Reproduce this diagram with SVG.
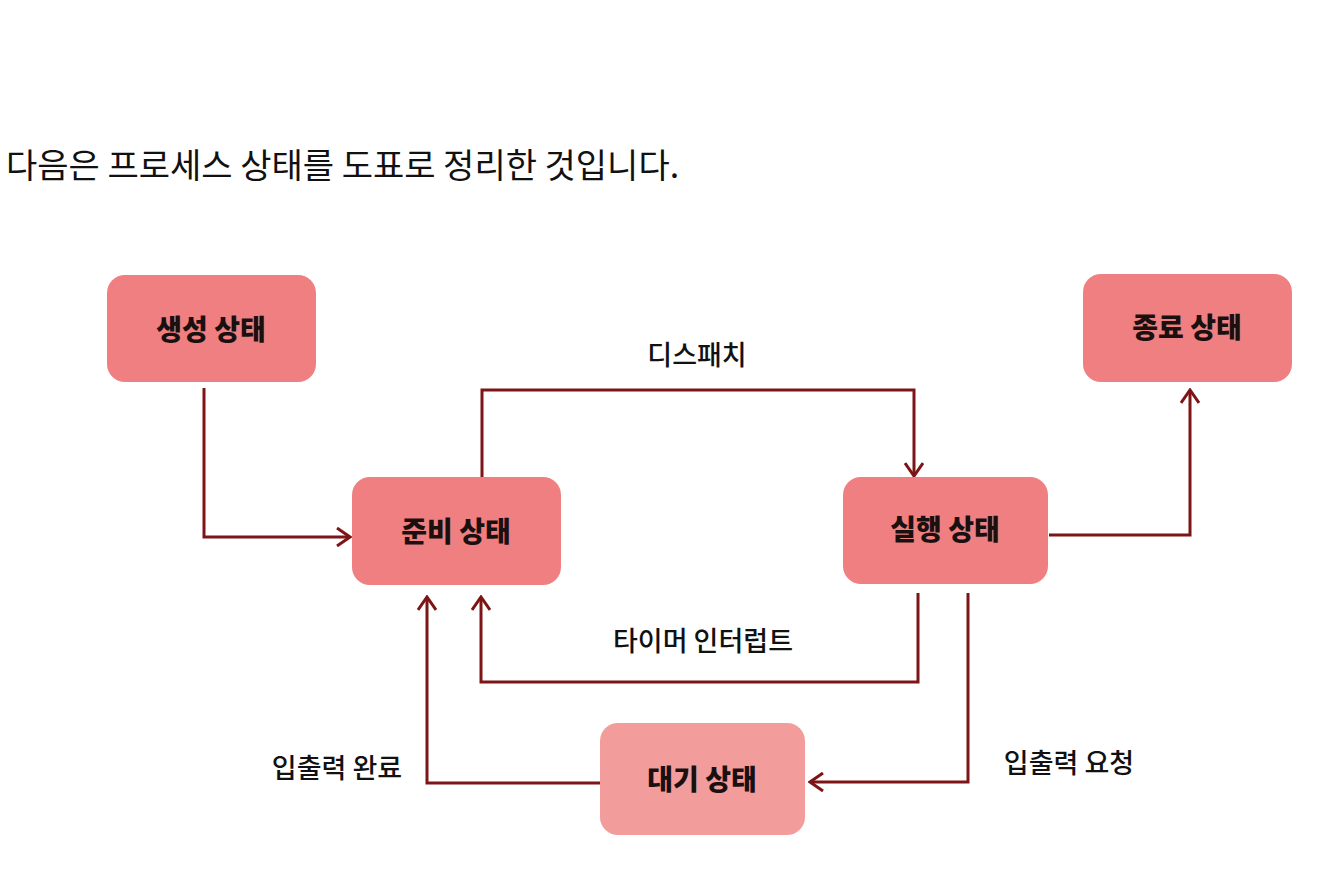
<svg xmlns="http://www.w3.org/2000/svg" width="1334" height="871" viewBox="0 0 1334 871">
<defs>
<style>
.box{fill:#ef7f80;}
.box2{fill:#f29c9c;}
.nt{font-family:"Noto Sans CJK KR","Noto Sans",sans-serif;font-weight:900;font-size:28px;fill:#1a1010;text-anchor:middle;}
.lb{font-family:"Noto Sans CJK KR","Noto Sans",sans-serif;font-weight:500;font-size:27px;fill:#111;text-anchor:middle;}
.title{font-family:"Noto Sans CJK KR","Noto Sans",sans-serif;font-weight:400;font-size:34px;fill:#111;}
.c{fill:none;stroke:#7d1416;stroke-width:3;}
</style>
<marker id="ah" viewBox="0 0 20 20" refX="18" refY="10" markerWidth="20" markerHeight="20" markerUnits="userSpaceOnUse" orient="auto">
<path d="M5,1 L18,10 L5,19" fill="none" stroke="#7d1416" stroke-width="3"/>
</marker>
</defs>
<rect width="1334" height="871" fill="#ffffff"/>
<text class="title" x="6" y="178">다음은 프로세스 상태를 도표로 정리한 것입니다.</text>

<g id="connectors">
<path class="c" d="M204,388 V537 H350" marker-end="url(#ah)"/>
<path class="c" d="M482,477 V390 H914 V476" marker-end="url(#ah)"/>
<path class="c" d="M1049,535 H1190 V390" marker-end="url(#ah)"/>
<path class="c" d="M918,593 V682 H481 V597" marker-end="url(#ah)"/>
<path class="c" d="M968,593 V782 H810" marker-end="url(#ah)"/>
<path class="c" d="M600,783 H427 V597" marker-end="url(#ah)"/>
<text class="lb" x="697" y="365">디스패치</text>
<text class="lb" x="703" y="651">타이머 인터럽트</text>
<text class="lb" x="1069" y="773">입출력 요청</text>
<text class="lb" x="337" y="778">입출력 완료</text>
</g>

<g id="node-create">
<rect class="box" x="107" y="275" width="209" height="107" rx="18"/>
<text class="nt" x="211" y="340">생성 상태</text>
</g>
<g id="node-ready">
<rect class="box" x="352" y="477" width="209" height="108" rx="18"/>
<text class="nt" x="456" y="542">준비 상태</text>
</g>
<g id="node-running">
<rect class="box" x="843" y="477" width="205" height="107" rx="18"/>
<text class="nt" x="945" y="540">실행 상태</text>
</g>
<g id="node-exit">
<rect class="box" x="1083" y="274" width="209" height="108" rx="18"/>
<text class="nt" x="1187" y="338">종료 상태</text>
</g>
<g id="node-wait">
<rect class="box2" x="600" y="723" width="205" height="112" rx="18"/>
<text class="nt" x="702" y="790">대기 상태</text>
</g>
</svg>
